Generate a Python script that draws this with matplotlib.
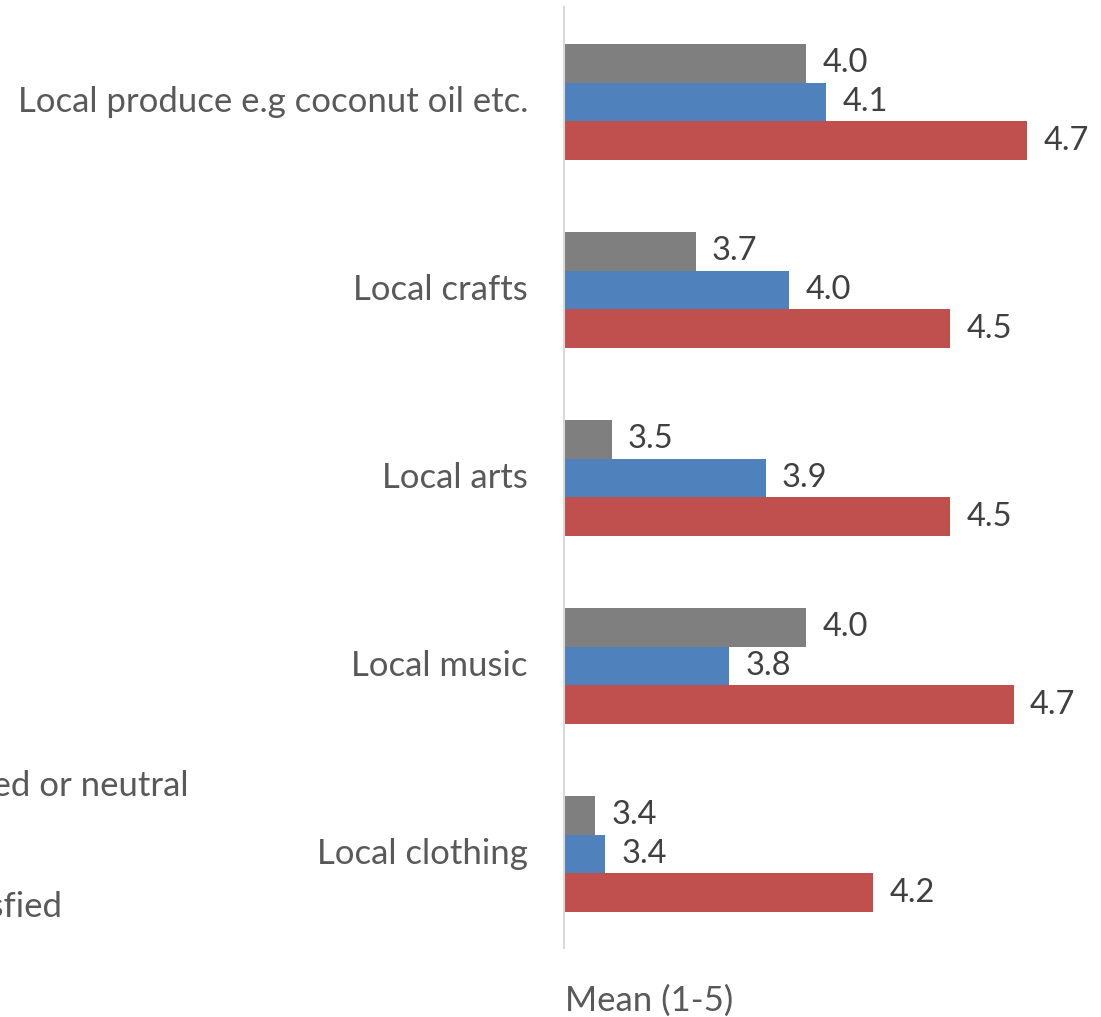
import matplotlib
matplotlib.use("Agg")
import matplotlib.pyplot as plt
import matplotlib.transforms as mtransforms
import numpy as np

categories = ["Local produce e.g coconut oil etc.", "Local crafts", "Local arts",
              "Local music", "Local clothing"]
series_names = ["Dissatisfied or neutral", "Satisfied", "Very satisfied"]
dissatisfied_neutral = [4.04, 3.71, 3.46, 4.04, 3.41]
satisfied = [4.10, 3.99, 3.92, 3.81, 3.44]
very_satisfied = [4.70, 4.47, 4.47, 4.66, 4.24]
colors = ["#7F7F7F", "#4F81BD", "#C0504D"]
axis_title = "Mean (1-5)"

plt.rcParams['font.family'] = ['Lato', 'DejaVu Sans']

W, H = 1101, 1017
fig = plt.figure(figsize=(W / 100, H / 100), dpi=100)
ax = fig.add_axes([564 / W, 1 - 948 / H, (W - 564) / W, 940 / H])

x_min = 3.317
x_max = x_min + (W - 564) / 335.0
bar_h = 0.2074
y = np.arange(len(categories))
data = [dissatisfied_neutral, satisfied, very_satisfied]
for i, (vals, col) in enumerate(zip(data, colors)):
    offs = (i - 1) * bar_h
    bars = ax.barh(y + offs, np.array(vals) - x_min, left=x_min, height=bar_h,
                   color=col, edgecolor='none', label=series_names[i])
    ax.bar_label(bars, labels=[f"{v:.1f}" for v in vals], padding=11.5,
                 fontsize=23.5, color="#404040")

ax.set_xlim(x_min, x_max)
ax.set_ylim(len(categories) - 0.5, -0.5)
ax.set_yticks(y)
ax.set_yticklabels(categories, fontsize=25, color="#595959")
ax.tick_params(axis='y', length=0, pad=26)
shift = mtransforms.ScaledTranslation(0, 3 / 100, fig.dpi_scale_trans)
for lbl in ax.get_yticklabels():
    lbl.set_transform(lbl.get_transform() + shift)
ax.set_xticks([])
for s in ['top', 'right', 'bottom']:
    ax.spines[s].set_visible(False)
ax.spines['left'].set_color("#D9D9D9")
ax.spines['left'].set_linewidth(1.5)
ax.spines['left'].set_bounds(len(categories) - 0.5, -0.5 - 1 / 188)

# axis title
fig.text(565 / W, 1 - 1011 / H, axis_title, fontsize=25, color="#595959",
         ha='left', va='baseline')

# legend (mostly cut off at the left edge of the picture)
fig.text(189 / W, 1 - 796 / H, series_names[0], fontsize=25, color="#595959",
         ha='right', va='baseline')
fig.text(-20 / W, 1 - 856 / H, series_names[1], fontsize=25, color="#595959",
         ha='right', va='baseline')
fig.text(62 / W, 1 - 917 / H, series_names[2], fontsize=25, color="#595959",
         ha='right', va='baseline')

fig.savefig("out.png", dpi=100)
